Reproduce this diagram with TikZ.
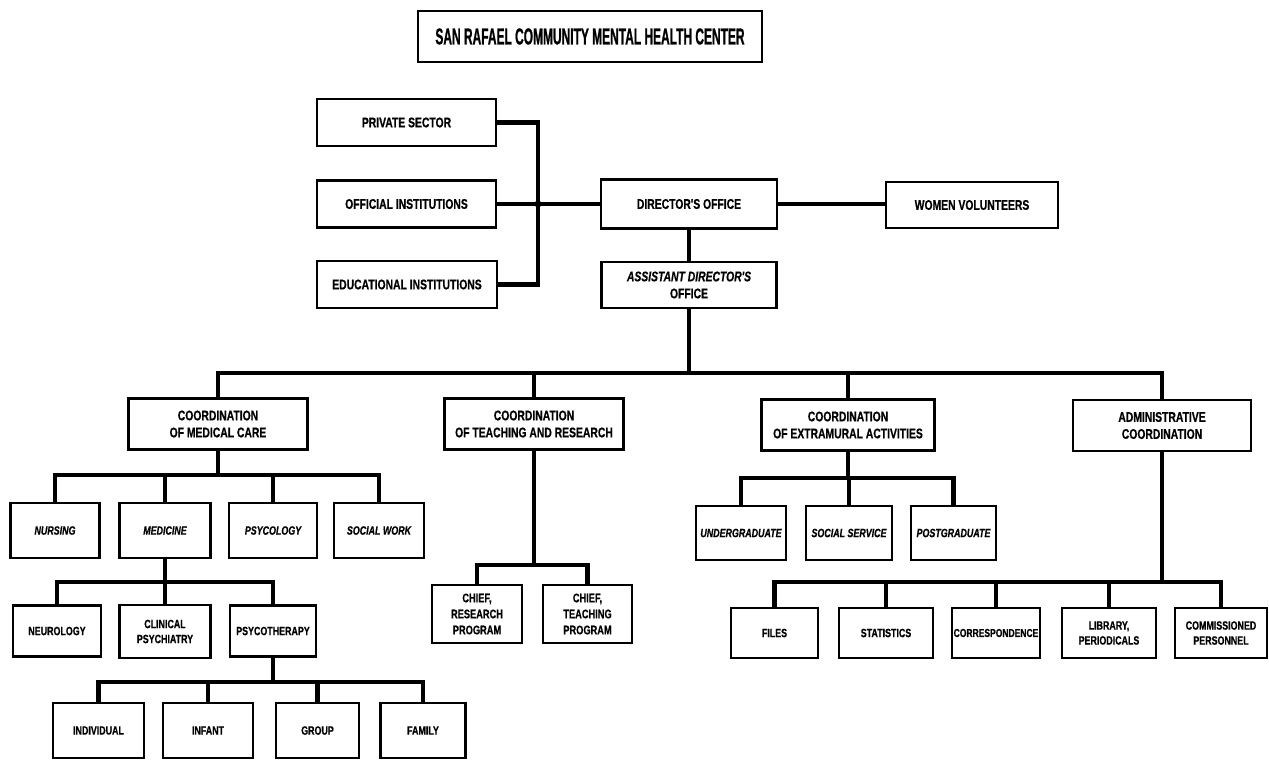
\documentclass[tikz,border=0pt]{standalone}
\usepackage{fontspec}
\newfontfamily\orgfont{Liberation Sans}[FakeStretch=0.74,FakeBold=0.6]
\newfontfamily\titlefont{Liberation Sans}[FakeStretch=0.52,FakeBold=0.8]
\tikzset{
  box/.style={draw, line width=2.4pt, align=center, inner sep=1pt, font=\orgfont\bfseries\fontsize{14}{17}\selectfont},
  smallbox/.style={box, font=\orgfont\bfseries\fontsize{12}{15}\selectfont},
  link/.style={line width=4.4pt},
}
\begin{document}
\begin{tikzpicture}[x=1pt,y=-1pt]
\useasboundingbox (0,0) rectangle (1269,763);

% Text Node
\node[box, minimum width=344, minimum height=51, font=\titlefont\bfseries\fontsize{23}{24}\selectfont] (title) at (590,36.5) {SAN RAFAEL COMMUNITY MENTAL HEALTH CENTER};

% Text Node
\node[box, minimum width=179, minimum height=47] (priv) at (406.5,122.5) {PRIVATE SECTOR};
% Text Node
\node[box, minimum width=179, minimum height=47] (offi) at (406.5,204) {OFFICIAL INSTITUTIONS};
% Text Node
\node[box, minimum width=180, minimum height=47] (educ) at (407,284.5) {EDUCATIONAL INSTITUTIONS};
% Text Node
\node[box, minimum width=176, minimum height=49] (dir) at (689,204) {DIRECTOR'S OFFICE};
% Text Node
\node[box, minimum width=172, minimum height=46] (wom) at (972,205) {WOMEN VOLUNTEERS};
% Text Node
\node[box, minimum width=175, minimum height=46] (asst) at (689,285) {{\itshape ASSISTANT DIRECTOR'S}\\OFFICE};

% Text Node
\node[box, minimum width=179, minimum height=51] (med) at (218,424) {COORDINATION\\OF MEDICAL CARE};
% Text Node
\node[box, minimum width=179, minimum height=51] (teach) at (534,424) {COORDINATION\\OF TEACHING AND RESEARCH};
% Text Node
\node[box, minimum width=173, minimum height=51] (extra) at (848,425) {COORDINATION\\OF EXTRAMURAL ACTIVITIES};
% Text Node
\node[box, minimum width=178, minimum height=51] (admin) at (1162,425.5) {ADMINISTRATIVE\\COORDINATION};

% Text Node
\node[smallbox, minimum width=89, minimum height=55] (nurs) at (55,530.5) {\itshape NURSING};
% Text Node
\node[smallbox, minimum width=91, minimum height=55] (medi) at (165,530.5) {\itshape MEDICINE};
% Text Node
\node[smallbox, minimum width=88, minimum height=55] (psyc) at (273,530.5) {\itshape PSYCOLOGY};
% Text Node
\node[smallbox, minimum width=90, minimum height=55] (socw) at (379,530.5) {\itshape SOCIAL WORK};

% Text Node
\node[smallbox, minimum width=88, minimum height=51] (neur) at (57,631) {NEUROLOGY};
% Text Node
\node[smallbox, minimum width=91, minimum height=53] (clin) at (165,631.5) {CLINICAL\\PSYCHIATRY};
% Text Node
\node[smallbox, minimum width=86, minimum height=51] (psyt) at (273,631) {PSYCOTHERAPY};

% Text Node
\node[smallbox, minimum width=91, minimum height=55] (indi) at (98.5,730.5) {INDIVIDUAL};
% Text Node
\node[smallbox, minimum width=90, minimum height=55] (infa) at (208,730.5) {INFANT};
% Text Node
\node[smallbox, minimum width=83, minimum height=55] (grou) at (317.5,730.5) {GROUP};
% Text Node
\node[smallbox, minimum width=85, minimum height=55] (fami) at (423,730.5) {FAMILY};

% Text Node
\node[smallbox, minimum width=90, minimum height=58, font=\orgfont\bfseries\fontsize{12.5}{16}\selectfont] (chres) at (477,614) {CHIEF,\\RESEARCH\\PROGRAM};
% Text Node
\node[smallbox, minimum width=89, minimum height=58, font=\orgfont\bfseries\fontsize{12.5}{16}\selectfont] (chtea) at (587.5,614) {CHIEF,\\TEACHING\\PROGRAM};

% Text Node
\node[smallbox, minimum width=90, minimum height=54] (under) at (741,533) {\itshape UNDERGRADUATE};
% Text Node
\node[smallbox, minimum width=86, minimum height=54] (socs) at (849,533) {\itshape SOCIAL SERVICE};
% Text Node
\node[smallbox, minimum width=85, minimum height=54] (post) at (953.5,533) {\itshape POSTGRADUATE};

% Text Node
\node[smallbox, minimum width=87, minimum height=50] (files) at (774.5,633) {FILES};
% Text Node
\node[smallbox, minimum width=94, minimum height=50] (stat) at (886,633) {STATISTICS};
% Text Node
\node[smallbox, minimum width=88, minimum height=50, inner sep=0pt, font=\orgfont\bfseries\fontsize{11.5}{15}\selectfont] (corr) at (996,633) {CORRESPONDENCE};
% Text Node
\node[smallbox, minimum width=94, minimum height=50] (libr) at (1109,633) {LIBRARY,\\PERIODICALS};
% Text Node
\node[smallbox, minimum width=92, minimum height=50] (comm) at (1221,633) {COMMISSIONED\\PERSONNEL};

%Straight Lines
\coordinate (jn) at (538,204);
\draw[link] (priv.east) -| (jn);
\draw[link] (educ.east) -| (jn);
\draw[link] (offi.east) -- (dir.west);
\fill (jn) circle (3.5);
\draw[link] (dir.east) -- (dir.east -| wom.west);
\draw[link] (dir.south) -- (asst.north);

%Straight Lines
\coordinate (b1) at (asst.south |- 0,373);
\draw[link] (asst.south) -- (b1);
\foreach \n in {med,teach,extra,admin} \draw[link] (b1) -| (\n.north);

%Straight Lines
\coordinate (b2) at (med.south |- 0,475);
\draw[link] (med.south) -- (b2);
\foreach \n in {nurs,medi,psyc,socw} \draw[link] (b2) -| (\n.north);

\coordinate (b3) at (medi.south |- 0,582);
\draw[link] (medi.south) -- (b3);
\foreach \n in {neur,clin,psyt} \draw[link] (b3) -| (\n.north);

\coordinate (b4) at (psyt.south |- 0,682);
\draw[link] (psyt.south) -- (b4);
\foreach \n in {indi,infa,grou,fami} \draw[link] (b4) -| (\n.north);

%Straight Lines
\coordinate (b5) at (teach.south |- 0,565);
\draw[link] (teach.south) -- (b5);
\foreach \n in {chres,chtea} \draw[link] (b5) -| (\n.north);

\coordinate (b6) at (extra.south |- 0,478);
\draw[link] (extra.south) -- (b6);
\foreach \n in {under,socs,post} \draw[link] (b6) -| (\n.north);

\coordinate (b7) at (admin.south |- 0,582);
\draw[link] (admin.south) -- (b7);
\foreach \n in {files,stat,corr,libr,comm} \draw[link] (b7) -| (\n.north);

\end{tikzpicture}
\end{document}
